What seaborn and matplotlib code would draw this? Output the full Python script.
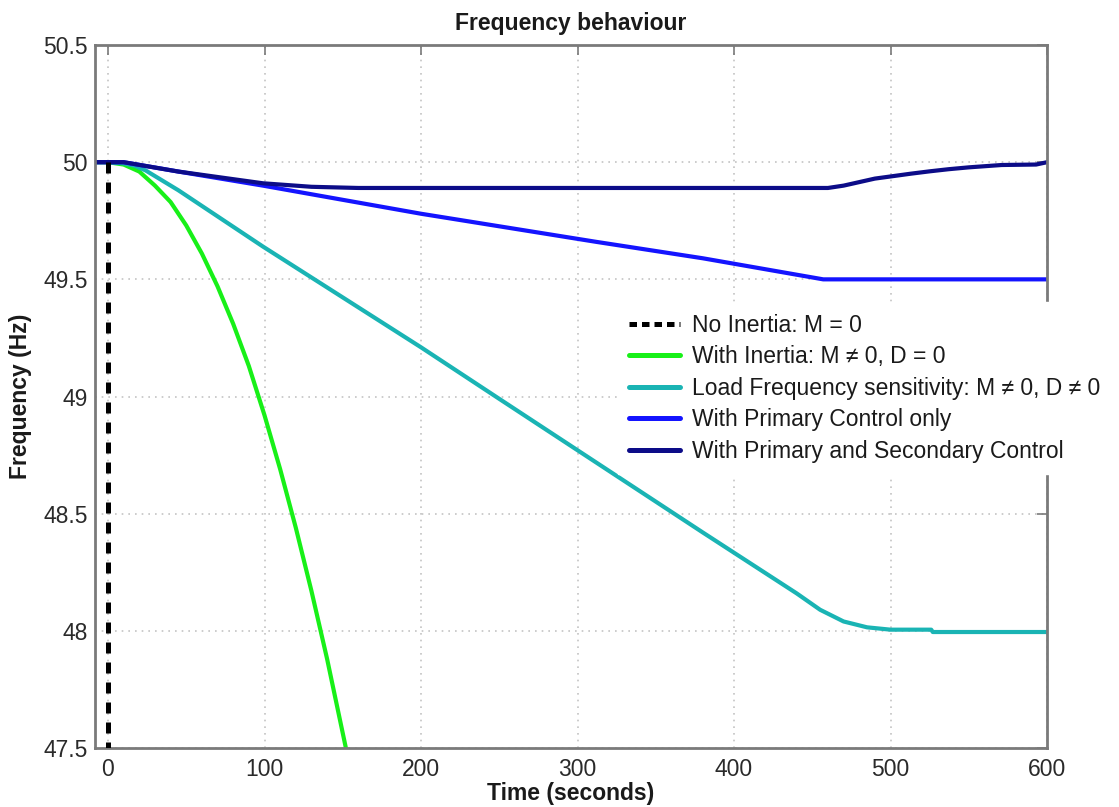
import numpy as np
import pandas as pd
import matplotlib
matplotlib.use("Agg")
import matplotlib.pyplot as plt
import seaborn as sns

# ---- data ----
t_noinertia = [0, 0]
f_noinertia = [50.0, 47.5]

t_inertia = [-8, 0, 10, 20, 30, 40, 50, 60, 70, 80, 90, 100, 110, 120, 130, 140, 152]
f_inertia = [50.0, 50.0, 49.99, 49.96, 49.90, 49.83, 49.73, 49.61, 49.47, 49.31,
             49.13, 48.92, 48.69, 48.44, 48.17, 47.88, 47.5]

t_loadfreq = [-8, 0, 10, 17, 24, 45, 99, 200, 250, 380, 440, 455, 470, 485, 500, 526, 527, 600]
f_loadfreq = [50.0, 50.0, 49.995, 49.985, 49.965, 49.88, 49.64, 49.21, 48.99, 48.42, 48.16,
              48.09, 48.04, 48.015, 48.005, 48.005, 47.995, 47.995]

t_primary = [-8, 0, 10, 45, 99, 200, 312, 380, 457, 600]
f_primary = [50.0, 50.0, 50.0, 49.96, 49.90, 49.78, 49.66, 49.59, 49.50, 49.50]

t_secondary = [-8, 0, 10, 45, 99, 130, 160, 460, 470, 480, 490, 501, 513, 525, 537, 550,
               571, 593, 600]
f_secondary = [50.0, 50.0, 50.0, 49.96, 49.91, 49.895, 49.89, 49.89, 49.90, 49.915, 49.93,
               49.94, 49.951, 49.961, 49.97, 49.978, 49.988, 49.99, 50.0]

labels = ["No Inertia: M = 0",
          "With Inertia: M \u2260 0, D = 0",
          "Load Frequency sensitivity: M \u2260 0, D \u2260 0",
          "With Primary Control only",
          "With Primary and Secondary Control"]
colors = ["black", "#18f018", "#1ab4b4", "#1414ff", "#0c0c88"]

xticks = [0, 100, 200, 300, 400, 500, 600]
yticks = [47.5, 48, 48.5, 49, 49.5, 50, 50.5]
ytick_labels = ["47.5", "48", "48.5", "49", "49.5", "50", "50.5"]

# ---- style ----
sns.set_theme(style="white")
plt.rcParams['font.family'] = ['Liberation Sans', 'DejaVu Sans']

FS = 16.5

fig = plt.figure(figsize=(11.19, 8.07), dpi=100)
ax = fig.add_axes([0.0849, 0.0731, 0.8508, 0.8711])

series = [(t_noinertia, f_noinertia), (t_inertia, f_inertia), (t_loadfreq, f_loadfreq),
          (t_primary, f_primary), (t_secondary, f_secondary)]

for i, ((tx, fy), lab, col) in enumerate(zip(series, labels, colors)):
    if i == 0:
        sns.lineplot(x=tx, y=fy, ax=ax, color=col, lw=3.6, label=lab,
                     estimator=None, sort=False)
        ax.lines[-1].set_dashes((2.2, 1.8))
        ax.lines[-1].set_zorder(3)
    else:
        sns.lineplot(x=tx, y=fy, ax=ax, color=col, lw=3.0, label=lab,
                     estimator=None, sort=False)

ax.set_xlim(-8.3, 600)
ax.set_ylim(47.5, 50.5)
ax.set_xticks(xticks)
ax.set_yticks(yticks)
ax.set_yticklabels(ytick_labels)

ax.grid(True, linestyle=(0, (1, 3)), color="#c4c4c4", linewidth=1.2)
ax.set_axisbelow(True)

for s in ax.spines.values():
    s.set_color("#7a7a7a")
    s.set_linewidth(2.0)
    s.set_visible(True)

ax.tick_params(direction="in", top=True, right=True, length=7, width=1.2,
               color="#7a7a7a", labelsize=FS, labelcolor="#2a2a2a", pad=5)
ax.tick_params(axis="x", pad=7)

ax.set_title("Frequency behaviour", fontsize=FS, fontweight="bold", color="#1a1a1a", pad=11)
ax.set_xlabel("Time (seconds)", fontsize=FS, fontweight="bold", color="#1a1a1a", labelpad=1)
ax.set_ylabel("Frequency (Hz)", fontsize=FS, fontweight="bold", color="#1a1a1a", labelpad=8)

leg = ax.legend(loc="upper left", bbox_to_anchor=(0.549, 0.634), borderaxespad=0,
                fontsize=FS, frameon=True, facecolor="white", edgecolor="white",
                framealpha=1, fancybox=False, handlelength=2.2, handletextpad=0.55,
                labelspacing=0.37, borderpad=0.5)
for txt in leg.get_texts():
    txt.set_color("#1a1a1a")
for h in leg.get_lines():
    h.set_linewidth(3.6)
leg.get_lines()[0].set_dashes((1.5, 1.0))
leg.set_zorder(10)

fig.savefig("out.png", dpi=100)
